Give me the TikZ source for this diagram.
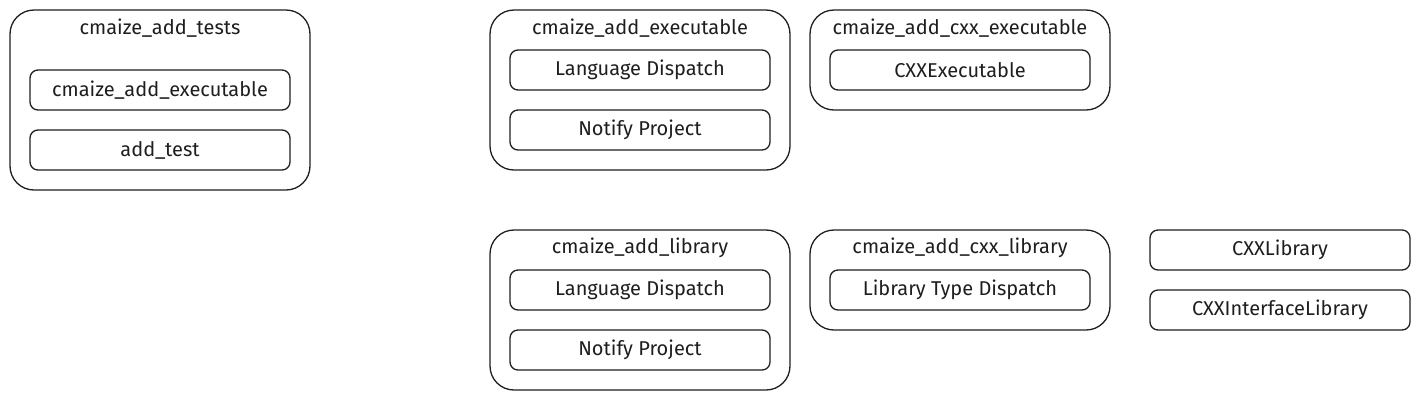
\documentclass[tikz,border=0pt]{standalone}
\usepackage{fontspec}
\setmainfont{Fira Sans}
\definecolor{ink}{HTML}{1E1E1E}
\tikzset{
  outerbox/.style={draw=ink, line width=1.3pt, rounded corners=24pt, inner sep=0pt},
  innerbox/.style={draw=ink, line width=1.3pt, rounded corners=8pt, minimum width=260pt, minimum height=40pt, inner sep=0pt, font=\fontsize{20}{24}\selectfont, text=ink},
  titletext/.style={font=\fontsize{20}{24}\selectfont, text=ink, inner sep=0pt}
}
\begin{document}
\begin{tikzpicture}[x=1pt,y=-1pt]
\useasboundingbox (0,0) rectangle (1420,400);
% cmaize_add_tests
\node[outerbox, minimum width=300pt, minimum height=180pt] (tests) at (160,100) {};
\node[titletext] (testsT) at (160,28) {cmaize\_add\_tests};
\node[innerbox] (testsExe) at (160,90) {cmaize\_add\_executable};
\node[innerbox] (testsAdd) at (160,150) {add\_test};
% cmaize_add_executable
\node[outerbox, minimum width=300pt, minimum height=160pt] (exe) at (640,90) {};
\node[titletext] (exeT) at (640,28) {cmaize\_add\_executable};
\node[innerbox] (exeLD) at (640,70) {Language Dispatch};
\node[innerbox] (exeNP) at (640,130) {Notify Project};
% cmaize_add_cxx_executable
\node[outerbox, minimum width=300pt, minimum height=100pt] (cxxexe) at (960,60) {};
\node[titletext] (cxxexeT) at (960,28) {cmaize\_add\_cxx\_executable};
\node[innerbox] (cxxexeIn) at (960,70) {CXXExecutable};
% cmaize_add_library
\node[outerbox, minimum width=300pt, minimum height=160pt] (lib) at (640,310) {};
\node[titletext] (libT) at (640,248) {cmaize\_add\_library};
\node[innerbox] (libLD) at (640,290) {Language Dispatch};
\node[innerbox] (libNP) at (640,350) {Notify Project};
% cmaize_add_cxx_library
\node[outerbox, minimum width=300pt, minimum height=100pt] (cxxlib) at (960,280) {};
\node[titletext] (cxxlibT) at (960,248) {cmaize\_add\_cxx\_library};
\node[innerbox] (cxxlibIn) at (960,290) {Library Type Dispatch};
% standalone classes
\node[innerbox] (cxxLibrary) at (1280,250) {CXXLibrary};
\node[innerbox] (cxxIface) at (1280,310) {CXXInterfaceLibrary};
\end{tikzpicture}
\end{document}
